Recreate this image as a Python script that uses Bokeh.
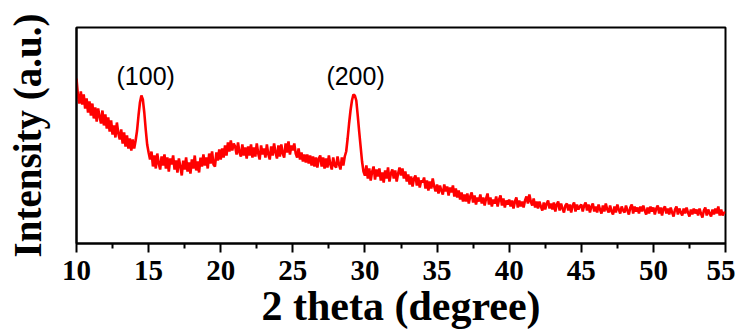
from bokeh.plotting import figure
from bokeh.models import Range1d, FixedTicker, Label
from bokeh.embed import file_html
from bokeh.resources import INLINE

# ---- data (2theta from 10 to 55 deg, step 0.1 deg) ----
two_theta_start = 10.0
two_theta_step = 0.1
intensity = [
    165, 148, 140, 152, 139, 149, 135, 145, 131, 142,   # 10
    128, 140, 125, 136, 122, 135, 127, 120, 133, 118,   # 11
    129, 115, 126, 112, 123, 109, 118, 106, 121, 110,   # 12
    104, 114, 100, 111, 97, 108, 95, 105, 93, 104,      # 13
    95, 103, 113, 128, 141, 148, 144, 131, 114, 99,     # 14
    91, 84, 92, 77, 88, 75, 90, 80, 74, 87,             # 15
    78, 89, 75, 86, 72, 85, 79, 88, 74, 83,             # 16
    71, 85, 77, 68, 83, 74, 86, 72, 81, 70,             # 17
    84, 75, 88, 73, 82, 71, 86, 77, 89, 78,             # 18
    86, 75, 90, 80, 92, 79, 77, 91, 83, 94,             # 19
    84, 95, 86, 98, 88, 101, 92, 103, 93, 100,          # 20
    97, 89, 101, 91, 87, 99, 88, 96, 85, 97,            # 21
    88, 99, 86, 96, 87, 100, 90, 84, 98, 89,            # 22
    95, 86, 99, 89, 84, 97, 88, 100, 91, 85,            # 23
    98, 87, 99, 90, 86, 100, 91, 102, 89, 98,           # 24
    93, 100, 90, 86, 95, 84, 91, 82, 89, 81,            # 25
    89, 80, 88, 78, 87, 77, 86, 76, 85, 88,             # 26
    77, 86, 75, 85, 76, 88, 79, 74, 86, 78,             # 27
    76, 87, 79, 74, 86, 78, 87, 92, 105, 120,           # 28
    133, 143, 149, 148, 143, 128, 112, 97, 82, 72,      # 29
    68, 78, 65, 75, 63, 72, 77, 64, 74, 67,             # 30
    75, 63, 71, 61, 73, 65, 76, 62, 70, 74,             # 31
    65, 73, 62, 70, 76, 68, 75, 65, 72, 62,             # 32
    69, 59, 67, 57, 65, 68, 58, 66, 56, 63,             # 33
    61, 66, 55, 63, 53, 62, 55, 65, 57, 52,             # 34
    59, 50, 58, 53, 49, 59, 52, 57, 48, 56,             # 35
    51, 58, 47, 55, 46, 53, 44, 51, 42, 49,             # 36
    42, 50, 40, 47, 51, 41, 48, 39, 46, 42,             # 37
    49, 40, 46, 38, 45, 50, 39, 46, 37, 44,             # 38
    40, 47, 37, 44, 48, 38, 45, 36, 43, 39,             # 39
    44, 37, 43, 35, 42, 46, 36, 43, 37, 42,             # 40
    36, 43, 47, 40, 49, 42, 38, 45, 36, 42,             # 41
    35, 42, 37, 33, 41, 34, 40, 43, 35, 40,             # 42
    34, 41, 32, 39, 42, 33, 40, 35, 31, 38,             # 43
    40, 33, 39, 31, 38, 41, 32, 39, 34, 37,             # 44
    39, 32, 38, 41, 33, 39, 31, 37, 40, 32,             # 45
    37, 31, 39, 34, 30, 38, 32, 40, 34, 31,             # 46
    38, 32, 29, 37, 31, 39, 34, 30, 37, 33,             # 47
    31, 38, 33, 29, 36, 39, 30, 37, 32, 36,             # 48
    30, 37, 32, 38, 33, 29, 36, 30, 37, 32,             # 49
    36, 29, 35, 38, 30, 36, 28, 35, 37, 30,             # 50
    35, 29, 36, 31, 27, 34, 37, 29, 35, 31,             # 51
    28, 35, 30, 36, 31, 27, 34, 29, 35, 30,             # 52
    34, 28, 35, 30, 26, 33, 36, 28, 34, 30,             # 53
    27, 34, 29, 35, 30, 37, 28, 34, 28, 31,             # 54
    31,                                                 # 55
]
two_theta = [round(two_theta_start + two_theta_step * i, 2) for i in range(len(intensity))]

peak_labels = ["(100)", "(200)"]
peak_label_x = [14.8, 29.35]
peak_label_y = [168, 168]

x_ticks = [10, 15, 20, 25, 30, 35, 40, 45, 50, 55]
x_minor_ticks = [12.5, 17.5, 22.5, 27.5, 32.5, 37.5, 42.5, 47.5, 52.5]
x_label = "2 theta (degree)"
y_label = "Intensity (a.u.)"

# ---- figure ----
p = figure(width=735, height=331, output_backend="svg", toolbar_location=None,
           x_range=Range1d(10, 55), y_range=Range1d(0, 216),
           min_border_left=76, min_border_top=27, min_border_right=10, min_border_bottom=88)
p.background_fill_color = "white"
p.border_fill_color = "white"
p.outline_line_color = "black"
p.outline_line_width = 2
p.grid.visible = False

p.line(two_theta, intensity, line_color="#ff0000", line_width=2.6)

for txt, lx, ly in zip(peak_labels, peak_label_x, peak_label_y):
    p.add_layout(Label(x=lx, y=ly, text=txt, text_align="center", text_baseline="middle",
                       text_font="Liberation Sans", text_font_size="25px", text_color="black"))

xa = p.xaxis[0]
xa.ticker = FixedTicker(ticks=x_ticks, minor_ticks=x_minor_ticks)
xa.axis_line_width = 2
xa.axis_line_color = "black"
xa.major_tick_line_width = 2
xa.minor_tick_line_width = 2
xa.major_tick_out = 9
xa.major_tick_in = 0
xa.minor_tick_out = 5
xa.minor_tick_in = 0
xa.major_label_text_font = "Liberation Serif"
xa.major_label_text_font_style = "bold"
xa.major_label_text_font_size = "29px"
xa.major_label_text_color = "black"
xa.major_label_standoff = 8
xa.axis_label = x_label
xa.axis_label_text_font = "Liberation Serif"
xa.axis_label_text_font_style = "bold"
xa.axis_label_text_font_size = "42px"
xa.axis_label_text_color = "black"
xa.axis_label_standoff = 0

ya = p.yaxis[0]
ya.ticker = FixedTicker(ticks=[])
ya.axis_line_width = 2
ya.axis_line_color = "black"
ya.major_tick_line_color = None
ya.minor_tick_line_color = None
ya.axis_label = y_label
ya.axis_label_text_font = "Liberation Serif"
ya.axis_label_text_font_style = "bold"
ya.axis_label_text_font_size = "39px"
ya.axis_label_text_color = "black"
ya.axis_label_standoff = 28

open("out.html", "w").write(file_html(p, INLINE))
